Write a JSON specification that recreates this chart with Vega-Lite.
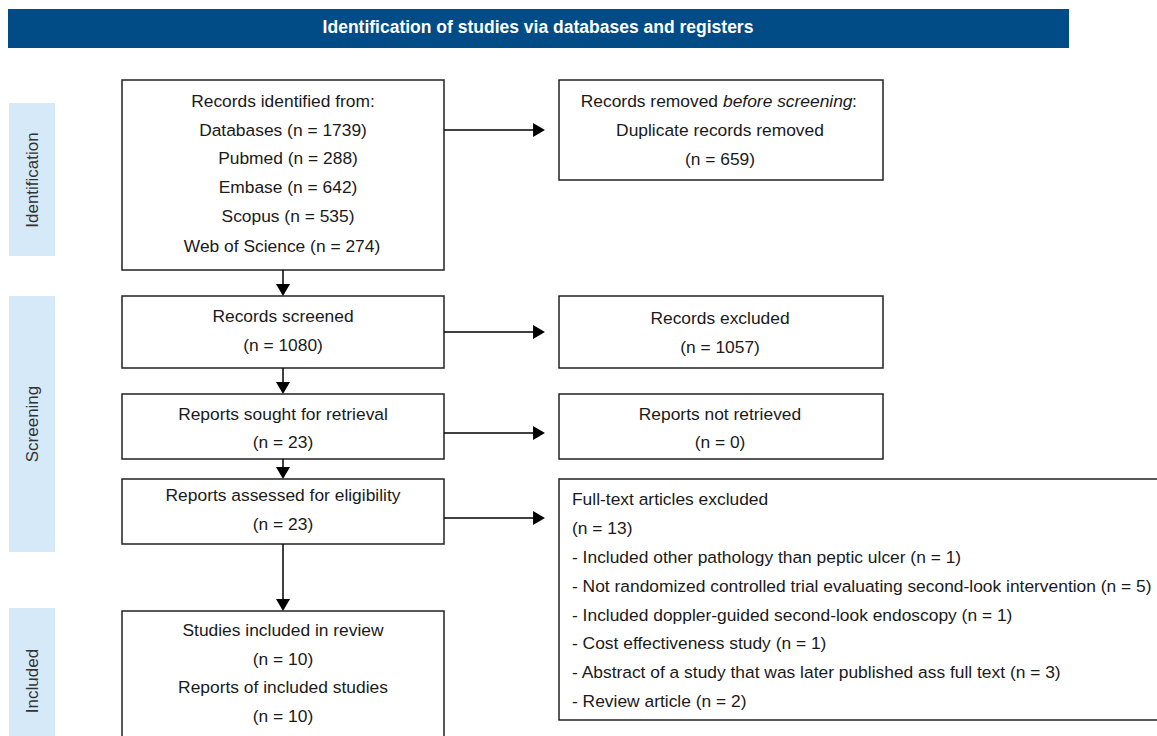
{
  "$schema": "https://vega.github.io/schema/vega-lite/v6.json",
  "width": 1157,
  "height": 736,
  "padding": 0,
  "autosize": {"type": "fit", "contains": "padding"},
  "background": "white",
  "config": {"view": {"stroke": null}},
  "datasets": {
    "header": [{"x": 8, "x2": 1069, "y": 9, "y2": 48, "yc": 28, "xc": 538, "label": "Identification of studies via databases and registers"}],
    "phases": [
      {"x": 9, "x2": 55, "y": 103, "y2": 256, "yc": 180, "label": "Identification"},
      {"x": 9, "x2": 55, "y": 296, "y2": 552, "yc": 424, "label": "Screening"},
      {"x": 9, "x2": 55, "y": 608, "y2": 755, "yc": 681, "label": "Included"}
    ],
    "boxes": [
      {"x": 122, "x2": 444, "y": 80, "y2": 270},
      {"x": 122, "x2": 444, "y": 296, "y2": 368},
      {"x": 122, "x2": 444, "y": 394, "y2": 459},
      {"x": 122, "x2": 444, "y": 479, "y2": 544},
      {"x": 122, "x2": 444, "y": 611, "y2": 760},
      {"x": 559, "x2": 883, "y": 80, "y2": 180},
      {"x": 559, "x2": 883, "y": 296, "y2": 368},
      {"x": 559, "x2": 883, "y": 394, "y2": 459},
      {"x": 559, "x2": 1170, "y": 479, "y2": 720}
    ],
    "lines": [
      {"x": 444, "x2": 534, "y": 130, "y2": 130},
      {"x": 444, "x2": 534, "y": 332, "y2": 332},
      {"x": 444, "x2": 534, "y": 433, "y2": 433},
      {"x": 444, "x2": 534, "y": 518, "y2": 518},
      {"x": 283, "x2": 283, "y": 270, "y2": 285},
      {"x": 283, "x2": 283, "y": 368, "y2": 383},
      {"x": 283, "x2": 283, "y": 459, "y2": 468},
      {"x": 283, "x2": 283, "y": 544, "y2": 600}
    ],
    "headsRight": [
      {"x": 539, "y": 130},
      {"x": 539, "y": 332},
      {"x": 539, "y": 433},
      {"x": 539, "y": 518}
    ],
    "headsDown": [
      {"x": 283, "y": 290},
      {"x": 283, "y": 388},
      {"x": 283, "y": 473},
      {"x": 283, "y": 605}
    ],
    "centerText": [
      {"x": 283, "y": 102, "text": "Records identified from:"},
      {"x": 283, "y": 131, "text": "Databases (n = 1739)"},
      {"x": 288, "y": 159, "text": "Pubmed (n = 288)"},
      {"x": 288, "y": 188, "text": "Embase (n = 642)"},
      {"x": 288, "y": 217, "text": "Scopus (n = 535)"},
      {"x": 282, "y": 247, "text": "Web of Science (n = 274)"},
      {"x": 283, "y": 317, "text": "Records screened"},
      {"x": 283, "y": 346, "text": "(n = 1080)"},
      {"x": 283, "y": 415, "text": "Reports sought for retrieval"},
      {"x": 283, "y": 443, "text": "(n = 23)"},
      {"x": 283, "y": 496, "text": "Reports assessed for eligibility"},
      {"x": 283, "y": 525, "text": "(n = 23)"},
      {"x": 283, "y": 631, "text": "Studies included in review"},
      {"x": 283, "y": 660, "text": "(n = 10)"},
      {"x": 283, "y": 688, "text": "Reports of included studies"},
      {"x": 283, "y": 717, "text": "(n = 10)"},
      {"x": 720, "y": 131, "text": "Duplicate records removed"},
      {"x": 720, "y": 160, "text": "(n = 659)"},
      {"x": 720, "y": 319, "text": "Records excluded"},
      {"x": 720, "y": 348, "text": "(n = 1057)"},
      {"x": 720, "y": 415, "text": "Reports not retrieved"},
      {"x": 720, "y": 443, "text": "(n = 0)"}
    ],
    "rightEndText": [
      {"x": 718, "y": 102, "text": "Records removed"}
    ],
    "italicText": [
      {"x": 723, "y": 102, "text": "before screening"}
    ],
    "leftText": [
      {"x": 852, "y": 102, "text": ":"},
      {"x": 572, "y": 500, "text": "Full-text articles excluded"},
      {"x": 572, "y": 529, "text": "(n = 13)"},
      {"x": 572, "y": 558, "text": "- Included other pathology than peptic ulcer (n = 1)"},
      {"x": 572, "y": 587, "text": "- Not randomized controlled trial evaluating second-look intervention (n = 5)"},
      {"x": 572, "y": 616, "text": "- Included doppler-guided second-look endoscopy (n = 1)"},
      {"x": 572, "y": 644, "text": "- Cost effectiveness study (n = 1)"},
      {"x": 572, "y": 673, "text": "- Abstract of a study that was later published ass full text (n = 3)"},
      {"x": 572, "y": 702, "text": "- Review article (n = 2)"}
    ]
  },
  "encoding": {
    "x": {"type": "quantitative", "scale": {"domain": [0, 1157], "nice": false, "zero": false}, "axis": null},
    "y": {"type": "quantitative", "scale": {"domain": [0, 736], "nice": false, "zero": false, "reverse": true}, "axis": null}
  },
  "layer": [
    {
      "data": {"name": "header"},
      "mark": {"type": "rect", "fill": "#014b87", "clip": true},
      "encoding": {"x": {"field": "x"}, "x2": {"field": "x2"}, "y": {"field": "y"}, "y2": {"field": "y2"}}
    },
    {
      "data": {"name": "header"},
      "mark": {"type": "text", "clip": true, "color": "white", "font": "Liberation Sans", "fontSize": 17.5, "fontWeight": "bold", "align": "center", "baseline": "middle"},
      "encoding": {"x": {"field": "xc"}, "y": {"field": "yc"}, "text": {"field": "label"}}
    },
    {
      "data": {"name": "phases"},
      "mark": {"type": "rect", "fill": "#d5e9f8", "clip": true},
      "encoding": {"x": {"field": "x"}, "x2": {"field": "x2"}, "y": {"field": "y"}, "y2": {"field": "y2"}}
    },
    {
      "data": {"name": "phases"},
      "mark": {"type": "text", "clip": true, "color": "#333333", "font": "Liberation Sans", "fontSize": 17, "angle": 270, "align": "center", "baseline": "middle"},
      "encoding": {"x": {"datum": 33}, "y": {"field": "yc"}, "text": {"field": "label"}}
    },
    {
      "data": {"name": "boxes"},
      "mark": {"type": "rect", "fill": "white", "stroke": "#222222", "strokeWidth": 1.5, "clip": true},
      "encoding": {"x": {"field": "x"}, "x2": {"field": "x2"}, "y": {"field": "y"}, "y2": {"field": "y2"}}
    },
    {
      "data": {"name": "lines"},
      "mark": {"type": "rule", "clip": true, "color": "black", "strokeWidth": 1.5},
      "encoding": {"x": {"field": "x"}, "x2": {"field": "x2"}, "y": {"field": "y"}, "y2": {"field": "y2"}}
    },
    {
      "data": {"name": "headsRight"},
      "mark": {"type": "point", "clip": true, "shape": "M-0.85,-1L0.85,0L-0.85,1Z", "filled": true, "color": "black", "size": 196, "opacity": 1},
      "encoding": {"x": {"field": "x"}, "y": {"field": "y"}}
    },
    {
      "data": {"name": "headsDown"},
      "mark": {"type": "point", "clip": true, "shape": "M-1,-0.85L1,-0.85L0,0.85Z", "filled": true, "color": "black", "size": 196, "opacity": 1},
      "encoding": {"x": {"field": "x"}, "y": {"field": "y"}}
    },
    {
      "data": {"name": "centerText"},
      "mark": {"type": "text", "clip": true, "color": "#1a1a1a", "font": "Liberation Sans", "fontSize": 17.4, "align": "center", "baseline": "middle"},
      "encoding": {"x": {"field": "x"}, "y": {"field": "y"}, "text": {"field": "text"}}
    },
    {
      "data": {"name": "rightEndText"},
      "mark": {"type": "text", "clip": true, "color": "#1a1a1a", "font": "Liberation Sans", "fontSize": 17.4, "align": "right", "baseline": "middle"},
      "encoding": {"x": {"field": "x"}, "y": {"field": "y"}, "text": {"field": "text"}}
    },
    {
      "data": {"name": "italicText"},
      "mark": {"type": "text", "clip": true, "color": "#1a1a1a", "font": "Liberation Sans", "fontSize": 17.4, "fontStyle": "italic", "align": "left", "baseline": "middle"},
      "encoding": {"x": {"field": "x"}, "y": {"field": "y"}, "text": {"field": "text"}}
    },
    {
      "data": {"name": "leftText"},
      "mark": {"type": "text", "clip": true, "color": "#1a1a1a", "font": "Liberation Sans", "fontSize": 17.4, "align": "left", "baseline": "middle"},
      "encoding": {"x": {"field": "x"}, "y": {"field": "y"}, "text": {"field": "text"}}
    }
  ]
}
